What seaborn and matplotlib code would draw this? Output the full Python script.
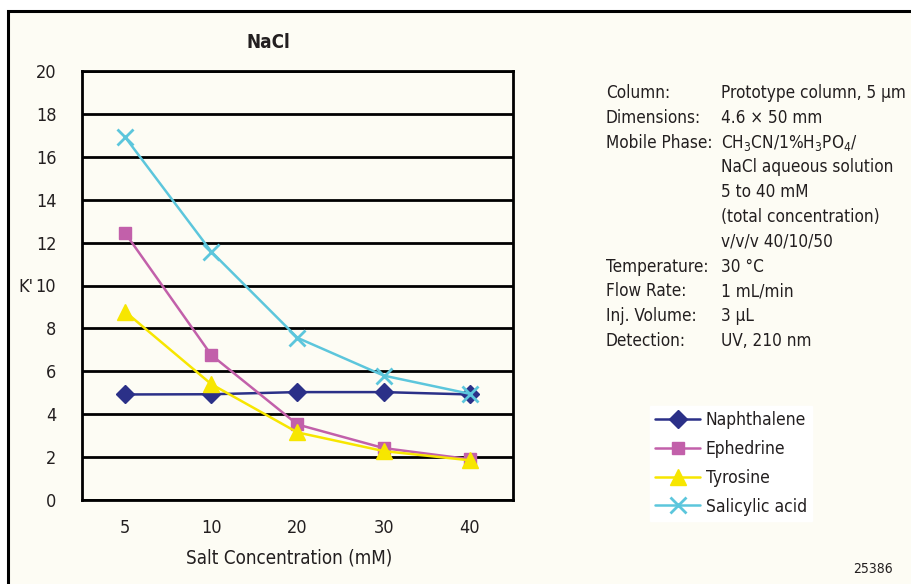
import matplotlib
matplotlib.use("Agg")
import matplotlib.pyplot as plt
import seaborn as sns
import pandas as pd
from matplotlib.patches import Rectangle

categories = ["5", "10", "20", "30", "40"]
naphthalene = [4.92, 4.93, 5.03, 5.03, 4.92]
ephedrine = [12.45, 6.76, 3.52, 2.42, 1.9]
tyrosine = [8.78, 5.4, 3.15, 2.28, 1.85]
salicylic = [16.92, 11.58, 7.56, 5.8, 4.95]
series_names = ["Naphthalene", "Ephedrine", "Tyrosine", "Salicylic acid"]
y_ticks = [0, 2, 4, 6, 8, 10, 12, 14, 16, 18, 20]

sns.set_theme(style="white")
FONT = ["Liberation Sans Narrow", "DejaVu Sans"]
plt.rcParams["font.family"] = FONT
plt.rcParams["font.stretch"] = "condensed"
plt.rcParams["mathtext.default"] = "regular"
TXT = "#231f20"
plt.rcParams["text.color"] = TXT

BG = "#fdfcf4"
fig = plt.figure(figsize=(9.12, 5.84), dpi=100)
fig.patch.set_facecolor("white")
W, H = 912, 584
fig.patches.append(Rectangle((8 / W, -0.05), 1.1, 1 - 11 / H + 0.05, transform=fig.transFigure,
                             facecolor=BG, edgecolor="black", linewidth=2.2, zorder=-5))

ax = fig.add_axes([82 / W, 1 - 500 / H, (513 - 82) / W, (500 - 71) / H])
ax.set_facecolor(BG)
ax.set_zorder(2)

colors = ["#2b3088", "#c260aa", "#f7e600", "#5cc6dc"]
markers = ["D", "s", "^", "x"]
msizes = [9, 9, 11, 11]
mews = [1, 1, 1, 2]
values = [naphthalene, ephedrine, tyrosine, salicylic]
pos = list(range(len(categories)))
for name, vals, c, m, ms, mew in zip(series_names, values, colors, markers, msizes, mews):
    df = pd.DataFrame({"pos": pos, "K": vals})
    sns.lineplot(data=df, x="pos", y="K", ax=ax, color=c, marker=m, markersize=ms,
                 markeredgecolor=c, markeredgewidth=mew, linewidth=1.8, label=name, zorder=3)

ax.set_xlim(-0.5, len(categories) - 0.5)
ax.set_ylim(0, 20)
ax.set_yticks(y_ticks)
ax.set_yticklabels([str(t) for t in y_ticks], fontsize=13, color=TXT)
ax.set_xticks(pos)
ax.set_xticklabels(categories, fontsize=13, color=TXT)
ax.set_xticks([p + 0.5 for p in pos], minor=True)
ax.tick_params(axis="x", which="major", length=0, pad=14)
ax.tick_params(axis="x", which="minor", length=11, width=2, color="black", direction="out")
ax.tick_params(axis="y", which="major", length=9.5, width=2, color="black", direction="out", pad=9)
ax.yaxis.grid(True, color="black", linewidth=2)
ax.set_axisbelow(True)
for s in ["left", "right", "top", "bottom"]:
    ax.spines[s].set_visible(True)
    ax.spines[s].set_color("black")
    ax.spines[s].set_linewidth(2)
ax.set_xlabel("")
ax.set_ylabel("")

fig.text(268 / W, 1 - 43 / H, "NaCl", fontsize=13.5, fontweight="bold", ha="center", va="center")
fig.text(33 / W, 1 - 287 / H, "K'", fontsize=13, ha="right", va="center")
fig.text(289 / W, 1 - 558 / H, "Salt Concentration (mM)", fontsize=13.5, ha="center", va="center")
fig.text(893 / W, 1 - 569 / H, "25386", fontsize=10, ha="right", va="center")

labels_col1 = ["Column:", "Dimensions:", "Mobile Phase:", "", "", "", "",
               "Temperature:", "Flow Rate:", "Inj. Volume:", "Detection:"]
labels_col2 = ["Prototype column, 5 µm", "4.6 × 50 mm",
               "CH$_3$CN/1%H$_3$PO$_4$/", "NaCl aqueous solution", "5 to 40 mM",
               "(total concentration)", "v/v/v 40/10/50", "30 °C", "1 mL/min", "3 µL",
               "UV, 210 nm"]
for i, (a, b) in enumerate(zip(labels_col1, labels_col2)):
    y = 1 - (93 + i * 24.8) / H
    if a:
        fig.text(606 / W, y, a, fontsize=12.3, ha="left", va="center")
    fig.text(721 / W, y, b, fontsize=12.3, ha="left", va="center")

leg = ax.legend(loc="upper left", bbox_to_anchor=(650 / W, 1 - 406 / H), bbox_transform=fig.transFigure,
                fontsize=12.5, frameon=True, fancybox=False, handlelength=2.6, handletextpad=0.3,
                labelspacing=0.62, borderpad=0.3, borderaxespad=0)
leg.get_frame().set_facecolor("white")
leg.get_frame().set_edgecolor("white")
leg.get_frame().set_alpha(1)
for t in leg.get_texts():
    t.set_color(TXT)

fig.savefig("out.png", dpi=100, facecolor=fig.get_facecolor())
